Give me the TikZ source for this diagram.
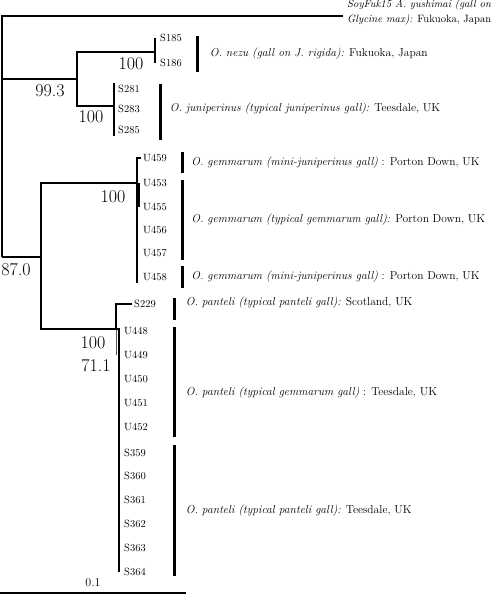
\documentclass[tikz,border=0pt]{standalone}
\usetikzlibrary{positioning}

\begin{document}
\begin{tikzpicture}[
  x=1pt, y=-1pt,
  node distance=6pt,
  branch/.style ={line width=1.4pt},
  fatbr/.style  ={line width=3pt},
  thinbr/.style ={line width=0.9pt, black!65},
  leaf/.style   ={anchor=west, inner sep=2pt, font=\fontsize{10.5}{12}\selectfont},
  boot/.style   ={inner sep=0pt, font=\fontsize{18}{18}\selectfont},
  bar/.style    ={fill=black, inner sep=0pt, minimum width=3pt},
  note/.style   ={inner sep=2pt, font=\fontsize{11.5}{15}\selectfont, align=left},
]
\useasboundingbox (0,0) rectangle (500,595);

% ============ Internal nodes ============
\coordinate (r)  at (2,257);
\coordinate (og) at (343,16);
\coordinate (n1) at (77,79);
\coordinate (n2) at (155,52);
\coordinate (n3) at (114,106);
\coordinate (n4) at (41,257);
\coordinate (n5) at (137,183);
\coordinate (n6) at (116,329);
\coordinate (n7) at (119,329);

% ============ Leaves ============
\foreach \lf/\y in {S185/38, S186/63} {
  \node[leaf] (\lf) at (158,\y) {\lf};
}
\foreach \lf/\y in {S281/89, S283/109, S285/130} {
  \node[leaf] (\lf) at (116,\y) {\lf};
}
\foreach \lf/\y in {U459/158, U453/183, U455/207, U456/230, U457/253, U458/277} {
  \node[leaf] (\lf) at (141,\y) {\lf};
}
\node[leaf] (S229) at (132,304) {S229};
\foreach \lf/\y in {U448/331, U449/355, U450/379, U451/403, U452/427, S359/453, S360/476, S361/500, S362/524, S363/548, S364/572} {
  \node[leaf] (\lf) at (122,\y) {\lf};
}

% ============ Branches ============
\draw[branch] (r) |- (og);
\draw[branch] (r) |- (n1);
\draw[branch] (r) -- (n4);
\draw[branch] (n1) |- (n2);
\draw[branch] (n1) |- (n3);
\draw[branch] (S185.west -| n2) -- (S186.west -| n2);
\draw[branch] (S281.north -| n3) -- (S285.south -| n3);
\draw[branch] (n4) |- (n5);
\draw[branch] (n4) |- (n6);
\draw[branch] (U459.west) -| (n5) -- (U458.south -| n5);
\draw[fatbr] ([xshift=-3pt]U453.west) -- ([xshift=-3pt]U455.west);
\draw[branch] (n6) |- (S229.west);
\draw[thinbr] (n6) -- (U449.west -| n6);
\draw[branch] (n6) -- (n7) -- (S364.west -| n7);

% ============ Bootstrap values ============
\node[boot] (b1) at (50,91)  {99.3};
\node[boot] (b2) at (131,64) {100};
\node[boot] (b3) at (91,117) {100};
\node[boot] (b4) at (16,270) {87.0};
\node[boot] (b5) at (113,197) {100};
\node[boot] (b6) at (93,343) {100};
\node[boot] (b7) at (96,366) {71.1};

% ============ Clade bars and notes ============
\node[note, anchor=west, font=\fontsize{10.6}{15}\selectfont] (tsoy) at (345,12.5) {\textit{SoyFuk15 A. yushimai (gall on}\\\textit{Glycine max):} Fukuoka, Japan};

\node[bar, minimum height=36pt] (bnez) at (197,54) {};
\node[note, right=9pt of bnez] (tnez) {\textit{O. nezu (gall on J. rigida):} Fukuoka, Japan};

\node[bar, minimum height=56pt] (bjun) at (160,112) {};
\node[note, right=6pt of bjun, yshift=3pt] (tjun) {\textit{O. juniperinus (typical juniperinus gall):} Teesdale, UK};

\node[bar, minimum height=21pt] (bgem1) at (182.5,162.5) {};
\node[note, right=5pt of bgem1] (tgem1) {\textit{O. gemmarum (mini-juniperinus gall)} : Porton Down, UK};
\node[bar, minimum height=80pt] (bgem2) at (182.5,220) {};
\node[note, right=5pt of bgem2] (tgem2) {\textit{O. gemmarum (typical gemmarum gall):} Porton Down, UK};
\node[bar, minimum height=22pt] (bgem3) at (182.5,277) {};
\node[note, right=5pt of bgem3] (tgem3) {\textit{O. gemmarum (mini-juniperinus gall)} : Porton Down, UK};

\node[bar, minimum height=22pt] (bpan1) at (174,309) {};
\node[note, right=8pt of bpan1, yshift=6pt] (tpan1) {\textit{O. panteli (typical panteli gall):} Scotland, UK};
\node[bar, minimum height=110pt] (bpan2) at (174,382) {};
\node[note, right=8pt of bpan2, yshift=-11pt] (tpan2) {\textit{O. panteli (typical gemmarum gall)} : Teesdale, UK};
\node[bar, minimum height=131pt] (bpan3) at (174,510.5) {};
\node[note, right=8pt of bpan3] (tpan3) {\textit{O. panteli (typical panteli gall):} Teesdale, UK};

% ============ Scale bar ============
\coordinate (s0) at (0,593);
\coordinate (s1) at (186,593);
\draw[branch] (s0) -- node[above=2pt, font=\fontsize{12}{12}\selectfont] (slab) {0.1} (s1);

\end{tikzpicture}
\end{document}
